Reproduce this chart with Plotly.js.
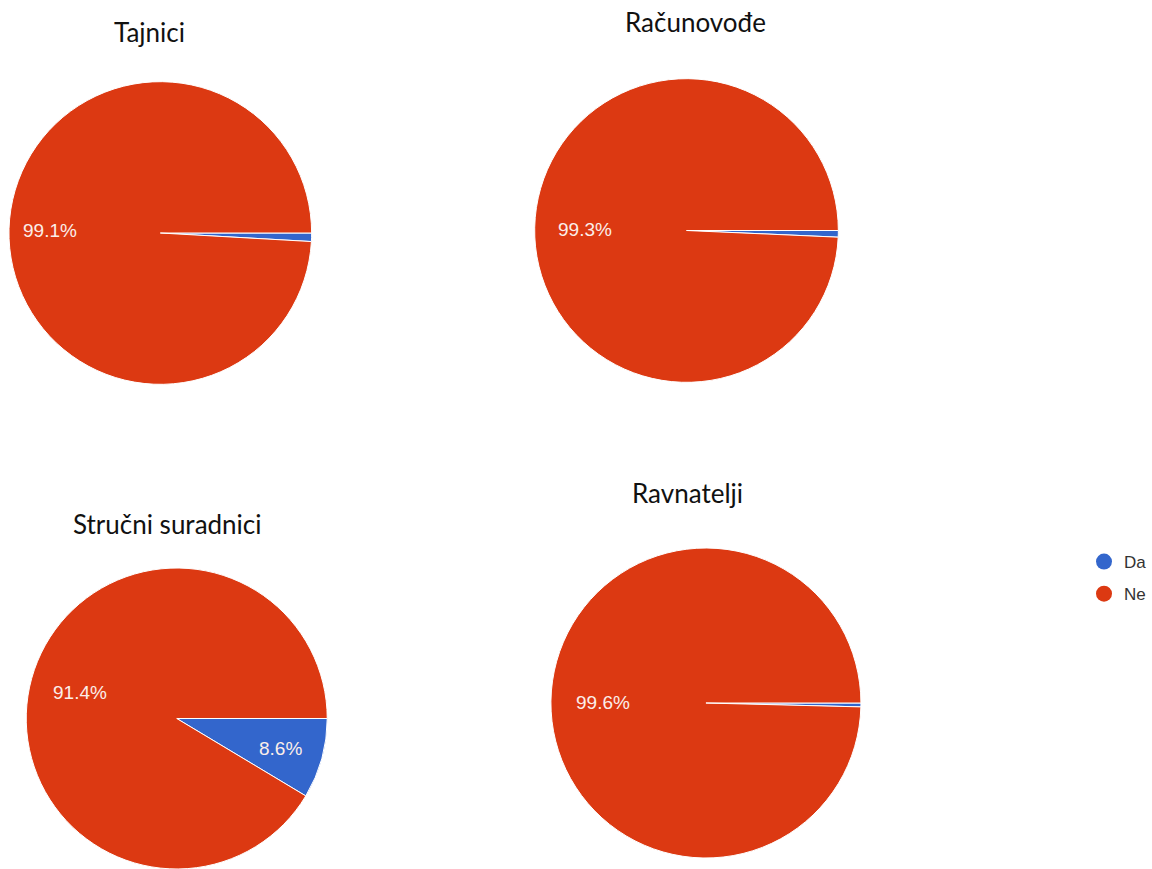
<!DOCTYPE html>
<html>
<head>
<meta charset="utf-8">
<script src="https://cdn.plot.ly/plotly-3.0.1.min.js"></script>
<style>html,body{margin:0;padding:0;background:#fff;}#chart{width:1152px;height:869px;}</style>
</head>
<body>
<div id="chart"></div>
<script>
const categories = ["Da", "Ne"];
const groups = ["Tajnici", "Računovođe", "Stručni suradnici", "Ravnatelji"];
const tajnici = [0.9, 99.1];
const racunovode = [0.7, 99.3];
const strucniSuradnici = [8.6, 91.4];
const ravnatelji = [0.4, 99.6];
const colors = ["#3366cc", "#dc3912"];

const W = 1152, H = 869;
// pixel boxes [left, top, right, bottom] for each pie
const boxes = [
  [9, 81, 313, 385],
  [537, 78, 842, 383],
  [25, 568, 330, 869],
  [553, 548, 865, 858]
];
const titlePos = [[150, 32], [699, 22], [168, 524], [690, 493]];
const seriesList = [tajnici, racunovode, strucniSuradnici, ravnatelji];
// label distance from centre, as a fraction of radius, for [Da, Ne] slices
const labelRadius = [[0.72, 0.73], [0.72, 0.67], [0.72, 0.67], [0.72, 0.67]];

const data = seriesList.map((vals, i) => {
  const b = boxes[i];
  return {
    type: "pie",
    values: vals,
    labels: categories,
    sort: false,
    direction: "clockwise",
    rotation: 90,
    marker: {colors: colors, line: {color: "#ffffff", width: 1}},
    textinfo: "none",
    hoverinfo: "label+percent",
    showlegend: false,
    domain: {x: [b[0] / W, b[2] / W], y: [1 - b[3] / H, 1 - b[1] / H]}
  };
});

categories.forEach((c, k) => {
  data.push({
    type: "scatter", mode: "markers", x: [null], y: [null], name: c,
    legendgroup: c,
    marker: {color: colors[k], size: 16, symbol: "circle"},
    showlegend: true, hoverinfo: "skip"
  });
});

const annotations = groups.map((g, i) => ({
  text: g, showarrow: false, xref: "paper", yref: "paper",
  x: titlePos[i][0] / W, y: 1 - titlePos[i][1] / H,
  xanchor: "center", yanchor: "middle",
  font: {family: "Lato, Open Sans, sans-serif", size: 26, color: "#111111"}
}));

// slice percentage labels placed at each slice's middle angle
seriesList.forEach((vals, i) => {
  const b = boxes[i];
  const cx = (b[0] + b[2]) / 2, cy = (b[1] + b[3]) / 2;
  const r = Math.min(b[2] - b[0], b[3] - b[1]) / 2;
  const total = vals.reduce((a, v) => a + v, 0);
  let start = 0;
  vals.forEach((v, k) => {
    const frac = v / total;
    const mid = (start + frac / 2) * 2 * Math.PI; // clockwise from 3 o'clock
    start += frac;
    if (frac < 0.05) return;
    const x = cx + Math.cos(mid) * r * labelRadius[i][k];
    const y = cy + Math.sin(mid) * r * labelRadius[i][k] + 1;
    annotations.push({
      text: v.toFixed(1) + "%", showarrow: false, xref: "paper", yref: "paper",
      x: x / W, y: 1 - y / H, xanchor: "center", yanchor: "middle",
      font: {family: "Liberation Sans, Arial, sans-serif", size: 19, color: "#fbeee9"}
    });
  });
});

const layout = {
  width: W, height: H,
  margin: {l: 0, r: 0, t: 0, b: 0},
  paper_bgcolor: "#ffffff", plot_bgcolor: "#ffffff",
  xaxis: {visible: false, domain: [0.99, 1]},
  yaxis: {visible: false, domain: [0.99, 1]},
  annotations: annotations,
  showlegend: true,
  legend: {
    x: 1089 / W, y: 1 - 544 / H, xanchor: "left", yanchor: "top",
    font: {family: "Liberation Sans, Arial, sans-serif", size: 17, color: "#333333"},
    itemsizing: "trace", itemwidth: 30, tracegroupgap: 7, bgcolor: "rgba(0,0,0,0)"
  }
};

Plotly.newPlot("chart", data, layout, {displayModeBar: false, staticPlot: true});
</script>
</body>
</html>
